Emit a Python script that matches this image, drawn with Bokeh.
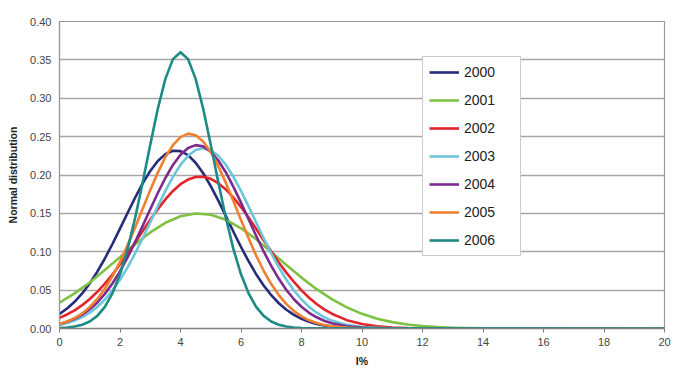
from bokeh.plotting import figure
from bokeh.models import Range1d, FixedTicker, NumeralTickFormatter, Legend, LegendItem
from bokeh.embed import file_html
from bokeh.resources import INLINE

# Values
years = ["2000", "2001", "2002", "2003", "2004", "2005", "2006"]

x_fine = [0, 0.25, 0.5, 0.75, 1, 1.25, 1.5, 1.75, 2, 2.25, 2.5, 2.75, 3, 3.25, 3.5, 3.75,
          4, 4.25, 4.5, 4.75, 5, 5.25, 5.5, 5.75, 6, 6.25, 6.5, 6.75, 7, 7.25, 7.5, 7.75,
          8, 8.25, 8.5, 8.75, 9, 9.5, 10, 10.5, 11, 11.5, 12, 12.5, 13, 13.5, 14, 20]

y_2000 = [0.0190, 0.0260, 0.0348, 0.0457, 0.0588, 0.0740, 0.0912, 0.1101, 0.1301, 0.1505,
          0.1705, 0.1891, 0.2053, 0.2183, 0.2272, 0.2316, 0.2311, 0.2258, 0.2160, 0.2023,
          0.1855, 0.1666, 0.1464, 0.1260, 0.1062, 0.0877, 0.0708, 0.0560, 0.0434, 0.0329,
          0.0244, 0.0177, 0.0126, 0.0088, 0.0060, 0.0040, 0.0026,
          0.0011, 0.0004, 0.0001, 0, 0, 0, 0, 0, 0, 0, 0]
y_2002 = [0.0138, 0.0183, 0.0237, 0.0304, 0.0384, 0.0477, 0.0584, 0.0703, 0.0834, 0.0974,
          0.1121, 0.1269, 0.1416, 0.1555, 0.1682, 0.1792, 0.1880, 0.1941, 0.1974, 0.1978,
          0.1950, 0.1894, 0.1812, 0.1706, 0.1582, 0.1445, 0.1299, 0.1150, 0.1003, 0.0861,
          0.0728, 0.0606, 0.0497, 0.0401, 0.0319, 0.0250, 0.0193,
          0.0109, 0.0058, 0.0029, 0.0014, 0.0006, 0.0003, 0.0001, 0, 0, 0, 0]
y_2003 = [0.0047, 0.0071, 0.0103, 0.0148, 0.0206, 0.0282, 0.0378, 0.0495, 0.0635, 0.0797,
          0.0979, 0.1176, 0.1383, 0.1592, 0.1794, 0.1977, 0.2132, 0.2251, 0.2325, 0.2350,
          0.2325, 0.2251, 0.2132, 0.1977, 0.1794, 0.1592, 0.1383, 0.1176, 0.0979, 0.0797,
          0.0635, 0.0495, 0.0378, 0.0282, 0.0206, 0.0148, 0.0103,
          0.0047, 0.0020, 0.0008, 0.0003, 0.0001, 0, 0, 0, 0, 0, 0]
y_2004 = [0.0058, 0.0087, 0.0126, 0.0180, 0.0250, 0.0339, 0.0451, 0.0586, 0.0745, 0.0926,
          0.1125, 0.1337, 0.1554, 0.1765, 0.1961, 0.2131, 0.2264, 0.2352, 0.2389, 0.2373,
          0.2305, 0.2189, 0.2033, 0.1846, 0.1640, 0.1424, 0.1209, 0.1004, 0.0815, 0.0647,
          0.0502, 0.0381, 0.0283, 0.0205, 0.0146, 0.0101, 0.0069,
          0.0030, 0.0012, 0.0004, 0.0001, 0, 0, 0, 0, 0, 0, 0]
y_2005 = [0.0060, 0.0091, 0.0136, 0.0197, 0.0279, 0.0385, 0.0518, 0.0679, 0.0868, 0.1083,
          0.1316, 0.1560, 0.1803, 0.2031, 0.2231, 0.2389, 0.2494, 0.2539, 0.2519, 0.2438,
          0.2300, 0.2115, 0.1897, 0.1658, 0.1413, 0.1175, 0.0951, 0.0752, 0.0579, 0.0435,
          0.0318, 0.0227, 0.0158, 0.0107, 0.0071, 0.0046, 0.0029,
          0.0011, 0.0003, 0.0001, 0, 0, 0, 0, 0, 0, 0, 0]

x_2001 = [0, 0.5, 1, 1.5, 2, 2.5, 3, 3.5, 4, 4.5, 5, 5.5, 6, 6.5, 7, 7.5,
          8, 8.5, 9, 9.5, 10, 10.5, 11, 11.5, 12, 12.5, 13, 13.5, 14, 20]
y_2001 = [0.0336, 0.0457, 0.0600, 0.0761, 0.0930, 0.1098, 0.1252, 0.1377, 0.1462, 0.1499,
          0.1483, 0.1417, 0.1306, 0.1162, 0.0998, 0.0828, 0.0663, 0.0512, 0.0382, 0.0275,
          0.0191, 0.0128, 0.0083, 0.0052, 0.0031, 0.0018, 0.0010, 0.0006, 0.0003, 0]

x_2006 = [0, 0.25, 0.5, 0.75, 1, 1.25, 1.5, 1.75, 2, 2.25, 2.5, 2.75, 3, 3.25, 3.5, 3.75,
          4, 4.25, 4.5, 4.75, 5, 5.25, 5.5, 5.75, 6, 6.25, 6.5, 6.75, 7, 7.25, 7.5, 7.75, 8, 20]
y_2006 = [0.0005, 0.0012, 0.0025, 0.0049, 0.0092, 0.0165, 0.0282, 0.0458, 0.0706, 0.1034,
          0.1440, 0.1905, 0.2395, 0.2863, 0.3252, 0.3510, 0.3600, 0.3510, 0.3252, 0.2863,
          0.2395, 0.1905, 0.1440, 0.1034, 0.0706, 0.0458, 0.0282, 0.0165, 0.0092, 0.0049,
          0.0025, 0.0012, 0.0005, 0]

x_ticks = [0, 2, 4, 6, 8, 10, 12, 14, 16, 18, 20]
y_ticks = [0, 0.05, 0.10, 0.15, 0.20, 0.25, 0.30, 0.35, 0.40]

colors = ["#262C7A", "#7DC242", "#E3242B", "#6EC6DA", "#7B2C8E", "#F08030", "#1E8A85"]

series = [
    (x_fine, y_2000), (x_2001, y_2001), (x_fine, y_2002), (x_fine, y_2003),
    (x_fine, y_2004), (x_fine, y_2005), (x_2006, y_2006),
]

FONT = "Liberation Sans"

p = figure(width=678, height=376, x_range=Range1d(0, 20), y_range=Range1d(0, 0.40),
           output_backend="svg", toolbar_location=None,
           min_border_left=59, min_border_right=14, min_border_top=21, min_border_bottom=48)
p.background_fill_color = "white"
p.border_fill_color = "white"
p.outline_line_color = "#9a9a9a"
p.outline_line_width = 1.2

items = []
for name, (xs, ys), c in zip(years, series, colors):
    r = p.line(xs, ys, line_color=c, line_width=2.6, line_join="round")
    items.append(LegendItem(label=name, renderers=[r]))

# grid
p.xgrid.grid_line_color = None
p.ygrid.grid_line_color = "#a6a6a6"
p.ygrid.grid_line_width = 1.3
p.ygrid.ticker = FixedTicker(ticks=y_ticks)

# axes
p.xaxis.ticker = FixedTicker(ticks=x_ticks)
p.yaxis.ticker = FixedTicker(ticks=y_ticks)
p.yaxis.formatter = NumeralTickFormatter(format="0.00")
p.xaxis.minor_tick_line_color = None
p.yaxis.minor_tick_line_color = None
p.xaxis.major_tick_in = 0
p.xaxis.major_tick_out = 4
p.yaxis.major_tick_in = 0
p.yaxis.major_tick_out = 0
p.xaxis.axis_line_color = "#808080"
p.yaxis.axis_line_color = "#9a9a9a"
p.xaxis.axis_line_width = 1.5
p.yaxis.axis_line_width = 1.2
p.xaxis.major_tick_line_color = "#808080"
for ax in (p.xaxis, p.yaxis):
    ax.major_label_text_font = FONT
    ax.major_label_text_font_size = "11px"
    ax.major_label_text_color = "#444444"
    ax.axis_label_text_font = FONT
    ax.axis_label_text_font_style = "bold"
    ax.axis_label_text_font_size = "10.5px"
    ax.axis_label_text_color = "#222222"
p.xaxis.major_label_standoff = 5
p.yaxis.major_label_standoff = 8
p.xaxis.axis_label = "I%"
p.yaxis.axis_label = "Normal distribution"
p.xaxis.axis_label_standoff = 6
p.yaxis.axis_label_standoff = 8

legend = Legend(items=items, location=(363, 72))
legend.border_line_color = "#9a9a9a"
legend.border_line_width = 1.2
legend.background_fill_color = "white"
legend.background_fill_alpha = 1.0
legend.label_text_font = FONT
legend.label_text_font_size = "14px"
legend.label_text_color = "#222222"
legend.glyph_width = 30
legend.glyph_height = 18
legend.label_height = 18
legend.label_width = 50
legend.label_standoff = 5
legend.spacing = 10
legend.padding = 6
legend.margin = 0
p.add_layout(legend)

open("out.html", "w").write(file_html(p, INLINE))
